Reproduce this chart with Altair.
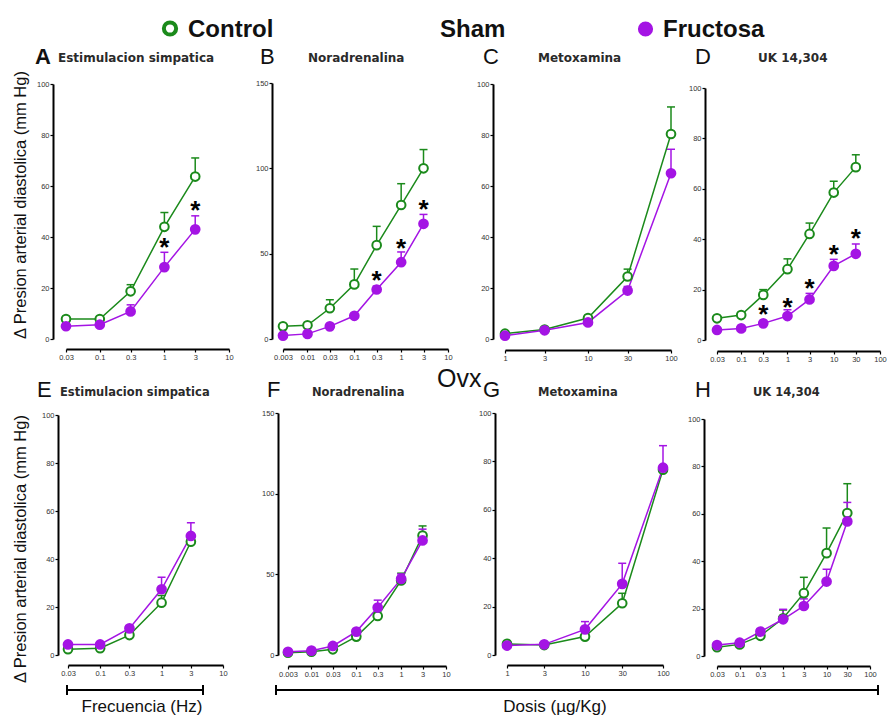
import altair as alt
import pandas as pd

W, H = 891, 716
GREEN = "#1b8a1b"
PURPLE = "#a414e4"
FONT = "Liberation Sans"
TITLE_FONT = "DejaVu Sans"

# ---------------- text ----------------
HEADER_LABELS = ["Control", "Sham", "Fructosa"]
MIDDLE_LABEL = "Ovx"
Y_TITLE = "Δ Presion arterial diastolica (mm Hg)"
X_TITLES = ["Frecuencia (Hz)", "Dosis (µg/Kg)"]
PANEL_KEYS = ["A", "B", "C", "D", "E", "F", "G", "H"]
PANEL_TITLES = ["Estimulacion simpatica", "Noradrenalina", "Metoxamina", "UK 14,304",
                "Estimulacion simpatica", "Noradrenalina", "Metoxamina", "UK 14,304"]

# ---------------- tick labels ----------------
TICKS_FREQ = [0.03, 0.1, 0.3, 1, 3, 10]
TICKS_NA = [0.003, 0.01, 0.03, 0.1, 0.3, 1, 3, 10]
TICKS_MET = [1, 3, 10, 30, 100]
TICKS_UK = [0.03, 0.1, 0.3, 1, 3, 10, 30, 100]
Y_TICKS_100 = [0, 20, 40, 60, 80, 100]
Y_TICKS_150 = [0, 50, 100, 150]

# ---------------- doses ----------------
X_FREQ = [0.03, 0.1, 0.3, 1, 3]
X_NA = [0.003, 0.01, 0.03, 0.1, 0.3, 1, 3]
X_MET = [1, 3, 10, 30, 100]
X_UK = [0.03, 0.1, 0.3, 1, 3, 10, 30]

# ---------------- Sham ----------------
A_CTRL = [7.8, 7.8, 18.7, 44.0, 63.7]
A_CTRL_SEM = [0.8, 0.8, 2.6, 5.6, 7.3]
A_FRUC = [5.0, 5.6, 10.8, 28.2, 43.0]
A_FRUC_SEM = [0.5, 0.5, 2.6, 5.8, 5.3]
A_STAR_X = [1, 3]
A_STAR_Y = [37.9, 52.6]

B_CTRL = [7.4, 8.0, 18.0, 32.0, 55.0, 78.5, 100.0]
B_CTRL_SEM = [0.5, 0.5, 5.0, 9.0, 11.0, 12.5, 11.0]
B_FRUC = [2.0, 3.0, 7.4, 13.6, 29.0, 45.0, 67.5]
B_FRUC_SEM = [0.5, 0.5, 0.5, 0.5, 2.0, 6.0, 5.5]
B_STAR_X = [0.3, 1, 3]
B_STAR_Y = [37.6, 56.5, 79.0]

C_CTRL = [2.1, 3.7, 8.2, 24.5, 80.4]
C_CTRL_SEM = [0.5, 0.5, 0.5, 2.9, 10.6]
C_FRUC = [1.3, 3.4, 6.5, 19.0, 65.0]
C_FRUC_SEM = [0.5, 0.5, 0.5, 1.6, 9.4]
C_STAR_X = []
C_STAR_Y = []

D_CTRL = [8.6, 9.9, 17.9, 28.1, 42.1, 58.5, 68.6]
D_CTRL_SEM = [0.5, 0.5, 2.1, 4.1, 4.3, 4.5, 4.9]
D_FRUC = [4.0, 4.6, 6.6, 9.5, 16.1, 29.4, 34.2]
D_FRUC_SEM = [0.5, 0.5, 0.5, 2.5, 2.4, 2.6, 3.9]
D_STAR_X = [0.3, 1, 3, 10, 30]
D_STAR_Y = [12.2, 15.2, 22.8, 36.0, 42.6]

# ---------------- Ovx ----------------
E_CTRL = [2.4, 2.8, 8.3, 21.8, 47.2]
E_CTRL_SEM = [0.5, 0.5, 0.5, 3.0, 2.0]
E_FRUC = [4.4, 4.4, 11.1, 27.4, 49.6]
E_FRUC_SEM = [0.5, 0.5, 1.0, 5.0, 5.5]

F_CTRL = [1.4, 2.0, 3.5, 11.4, 24.2, 46.2, 74.0]
F_CTRL_SEM = [0.5, 0.5, 0.5, 0.5, 1.5, 4.5, 6.0]
F_FRUC = [2.0, 2.7, 5.6, 14.5, 29.4, 47.2, 71.0]
F_FRUC_SEM = [0.5, 0.5, 0.5, 1.0, 4.6, 3.0, 7.0]

G_CTRL = [4.6, 4.1, 7.6, 21.4, 76.6]
G_CTRL_SEM = [0.5, 0.5, 0.5, 4.1, 2.0]
G_FRUC = [3.9, 4.4, 10.6, 29.4, 77.4]
G_FRUC_SEM = [0.5, 0.5, 3.2, 8.5, 9.1]

H_CTRL = [3.7, 4.9, 8.5, 15.9, 26.5, 43.4, 60.3]
H_CTRL_SEM = [0.5, 0.5, 0.5, 3.5, 6.7, 10.6, 12.4]
H_FRUC = [4.6, 5.6, 10.3, 15.5, 21.1, 31.4, 56.8]
H_FRUC_SEM = [0.5, 0.5, 1.0, 4.2, 3.0, 5.2, 8.0]

# ---------------- layout (pixels) ----------------
LAYOUT = {
    "A": dict(xr=[66, 229], yr=[339, 84], yaxis=53, xaxis=349, letter=(35, 64), title=(58, 62), tsize=12),
    "B": dict(xr=[283, 448], yr=[339, 83], yaxis=272, xaxis=349, letter=(260, 64), title=(308, 62), tsize=12),
    "C": dict(xr=[505, 671], yr=[339, 84], yaxis=493, xaxis=350, letter=(483, 64), title=(538, 62), tsize=12),
    "D": dict(xr=[717, 880], yr=[340, 88], yaxis=705, xaxis=351, letter=(695, 64), title=(758, 62), tsize=12),
    "E": dict(xr=[68, 223], yr=[655, 415], yaxis=58, xaxis=665, letter=(37, 397), title=(60, 396), tsize=11.5),
    "F": dict(xr=[288, 446], yr=[655, 413], yaxis=278, xaxis=666, letter=(267, 397), title=(312, 396), tsize=11.5),
    "G": dict(xr=[507, 663], yr=[655, 413], yaxis=495, xaxis=665, letter=(483, 397), title=(538, 396), tsize=11.5),
    "H": dict(xr=[717, 870], yr=[656, 419], yaxis=704, xaxis=666, letter=(695, 397), title=(753, 396), tsize=11.5),
}

ONE = alt.Data(values=[{}])


def txt(t, x, y, size, weight="normal", align="left", font=FONT, angle=0,
        color="#111111", baseline="alphabetic"):
    return alt.Chart(ONE).mark_text(
        text=t, align=align, baseline=baseline, fontSize=size, fontWeight=weight,
        font=font, angle=angle, color=color
    ).encode(x=alt.value(x), y=alt.value(y))


def panel(key, xv, ctrl, ctrl_sem, fruc, fruc_sem, star_x, star_y, xdom, ydom, xticks, yticks):
    lay = LAYOUT[key]
    n = len(xv)
    df = pd.DataFrame({
        "dose": list(xv) * 2,
        "mean": list(ctrl) + list(fruc),
        "top": [m + s for m, s in zip(ctrl, ctrl_sem)] + [m + s for m, s in zip(fruc, fruc_sem)],
        "group": ["Control"] * n + ["Fructosa"] * n,
    })
    xscale = alt.Scale(type="log", domain=xdom, range=lay["xr"], nice=False)
    yscale = alt.Scale(type="linear", domain=ydom, range=lay["yr"], nice=False, zero=False)
    xaxis = alt.Axis(orient="bottom", offset=lay["xaxis"] - H, values=xticks, format="~g",
                     labelOverlap=False, labelBound=False, labelFlush=False, title=None, grid=False)
    yaxis = alt.Axis(orient="left", offset=-lay["yaxis"], values=yticks, title=None, grid=False,
                     labelOverlap=False, labelFlush=False)
    color = alt.Color("group:N", scale=alt.Scale(domain=["Control", "Fructosa"], range=[GREEN, PURPLE]),
                      legend=None)
    base = alt.Chart(df)
    xe = alt.X("dose:Q", scale=xscale, axis=None)
    ye = alt.Y("mean:Q", scale=yscale, axis=None)
    layers = [
        base.mark_line(strokeWidth=1.5).encode(
            x=alt.X("dose:Q", scale=xscale, axis=xaxis),
            y=alt.Y("mean:Q", scale=yscale, axis=yaxis), color=color),
        base.mark_rule(strokeWidth=1.5).encode(
            x=xe, y=ye, y2="top:Q", color=color),
        base.mark_tick(orient="horizontal", size=8, thickness=1.5, opacity=1).encode(
            x=xe, y=alt.Y("top:Q", scale=yscale, axis=None), color=color),
        base.transform_filter(alt.datum.group == "Control").mark_point(
            shape="circle", filled=True, fill="white", stroke=GREEN, strokeWidth=2,
            size=75, opacity=1).encode(x=xe, y=ye),
        base.transform_filter(alt.datum.group == "Fructosa").mark_point(
            shape="circle", filled=True, color=PURPLE, size=115, opacity=1).encode(x=xe, y=ye),
    ]
    if star_x:
        sdf = pd.DataFrame({"dose": star_x, "y": star_y})
        layers.append(alt.Chart(sdf).mark_text(
            text="*", fontSize=26, fontWeight="bold", color="black", baseline="middle", dy=6,
            font=FONT).encode(x=xe, y=alt.Y("y:Q", scale=yscale, axis=None)))
    return layers


layers = []
specs = [
    ("A", X_FREQ, A_CTRL, A_CTRL_SEM, A_FRUC, A_FRUC_SEM, A_STAR_X, A_STAR_Y, [0.03, 10], [0, 100], TICKS_FREQ, Y_TICKS_100),
    ("B", X_NA, B_CTRL, B_CTRL_SEM, B_FRUC, B_FRUC_SEM, B_STAR_X, B_STAR_Y, [0.003, 10], [0, 150], TICKS_NA, Y_TICKS_150),
    ("C", X_MET, C_CTRL, C_CTRL_SEM, C_FRUC, C_FRUC_SEM, C_STAR_X, C_STAR_Y, [1, 100], [0, 100], TICKS_MET, Y_TICKS_100),
    ("D", X_UK, D_CTRL, D_CTRL_SEM, D_FRUC, D_FRUC_SEM, D_STAR_X, D_STAR_Y, [0.03, 100], [0, 100], TICKS_UK, Y_TICKS_100),
    ("E", X_FREQ, E_CTRL, E_CTRL_SEM, E_FRUC, E_FRUC_SEM, [], [], [0.03, 10], [0, 100], TICKS_FREQ, Y_TICKS_100),
    ("F", X_NA, F_CTRL, F_CTRL_SEM, F_FRUC, F_FRUC_SEM, [], [], [0.003, 10], [0, 150], TICKS_NA, Y_TICKS_150),
    ("G", X_MET, G_CTRL, G_CTRL_SEM, G_FRUC, G_FRUC_SEM, [], [], [1, 100], [0, 100], TICKS_MET, Y_TICKS_100),
    ("H", X_UK, H_CTRL, H_CTRL_SEM, H_FRUC, H_FRUC_SEM, [], [], [0.03, 100], [0, 100], TICKS_UK, Y_TICKS_100),
]
for s in specs:
    layers += panel(*s)

# panel letters and titles
for key, title in zip(PANEL_KEYS, PANEL_TITLES):
    lay = LAYOUT[key]
    layers.append(txt(key, lay["letter"][0], lay["letter"][1], 22,
                      weight="bold" if key == "A" else "normal"))
    layers.append(txt(title, lay["title"][0], lay["title"][1], lay["tsize"], weight="bold",
                      font=TITLE_FONT, color="#2a2a2a"))

# header legend
layers.append(alt.Chart(ONE).mark_point(shape="circle", filled=True, fill="white", stroke=GREEN,
                                        strokeWidth=4, size=150, opacity=1)
              .encode(x=alt.value(170), y=alt.value(28.5)))
layers.append(txt(HEADER_LABELS[0], 188, 37, 24, weight="bold"))
layers.append(txt(HEADER_LABELS[1], 440, 37, 24, weight="bold"))
layers.append(alt.Chart(ONE).mark_point(shape="circle", filled=True, color=PURPLE, size=230, opacity=1)
              .encode(x=alt.value(645.5), y=alt.value(29)))
layers.append(txt(HEADER_LABELS[2], 663, 37, 24, weight="bold"))
layers.append(txt(MIDDLE_LABEL, 437, 387, 25))

# y titles
layers.append(txt(Y_TITLE, 21, 205, 16.5, align="center", angle=270, baseline="middle"))
layers.append(txt(Y_TITLE, 21, 549, 16.5, align="center", angle=270, baseline="middle"))

# bottom brackets
def bracket(x0, x1, y):
    return [
        alt.Chart(ONE).mark_rule(color="black", strokeWidth=2).encode(
            x=alt.value(x0), x2=alt.value(x1), y=alt.value(y)),
        alt.Chart(ONE).mark_rule(color="black", strokeWidth=2).encode(
            x=alt.value(x0), y=alt.value(y - 5), y2=alt.value(y + 5)),
        alt.Chart(ONE).mark_rule(color="black", strokeWidth=2).encode(
            x=alt.value(x1), y=alt.value(y - 5), y2=alt.value(y + 5)),
    ]

layers += bracket(67, 203, 690)
layers += bracket(276, 878, 690)
layers.append(txt(X_TITLES[0], 142, 712, 17, align="center"))
layers.append(txt(X_TITLES[1], 555, 712, 17, align="center"))

chart = alt.layer(*layers).resolve_scale(
    x="independent", y="independent", color="independent"
).resolve_axis(
    x="independent", y="independent"
).properties(
    width=W, height=H, padding=0, autosize=alt.AutoSizeParams(type="none"),
    background="white"
).configure_view(stroke=None).configure_axis(
    domainColor="black", domainWidth=2, tickColor="black", tickWidth=1.2, tickSize=3,
    labelFont=FONT, labelFontSize=7.5, labelColor="#333333", labelPadding=1, grid=False
)

chart.save("out.html", embed_options={"renderer": "svg", "actions": False})
